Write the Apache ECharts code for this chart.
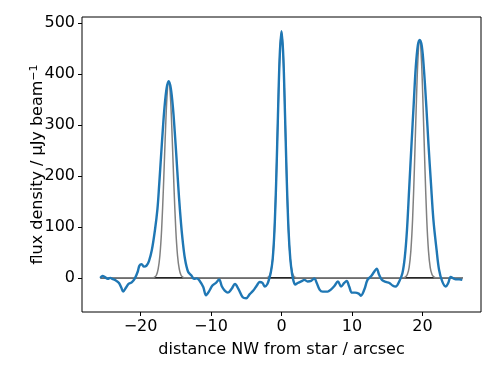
<!DOCTYPE html>
<html>
<head>
<meta charset="utf-8">
<script src="https://cdn.jsdelivr.net/npm/echarts@6/dist/echarts.min.js"></script>
<style>
  html, body { margin: 0; padding: 0; background: #fff; }
  #chart { width: 498px; height: 374px; }
</style>
</head>
<body>
<div id="chart"></div>
<script>
// observed profile (blue), [distance arcsec, flux uJy/beam]
const observed = [
  [-25.7, 0], [-25.4, 4], [-25.0, 1], [-24.65, -2], [-24.3, 0], [-24.0, -2],
  [-23.5, -5], [-23.05, -10], [-22.7, -20], [-22.45, -27], [-22.1, -20], [-21.7, -12],
  [-21.25, -9], [-20.8, -1], [-20.4, 12], [-20.15, 24], [-19.85, 27], [-19.5, 22],
  [-19.15, 24], [-18.8, 33], [-18.4, 54], [-17.95, 94], [-17.6, 135], [-17.35, 183],
  [-17.1, 236], [-16.85, 288], [-16.6, 334], [-16.3, 372], [-16.0, 386], [-15.7, 372],
  [-15.4, 334], [-15.15, 288], [-14.9, 236], [-14.65, 181], [-14.4, 132], [-14.1, 84],
  [-13.7, 38], [-13.25, 12], [-12.8, 5], [-12.4, -2], [-12.0, -1], [-11.6, -6],
  [-11.1, -18], [-10.7, -34], [-10.3, -27], [-9.8, -15], [-9.3, -10], [-8.85, -3],
  [-8.45, -17], [-8.05, -25], [-7.6, -29], [-7.1, -22], [-6.6, -12], [-6.1, -22],
  [-5.5, -38], [-5.0, -40], [-4.5, -32], [-4.0, -25], [-3.5, -15], [-3.1, -8],
  [-2.7, -10], [-2.35, -17], [-2.0, -12], [-1.75, -2], [-1.5, 12], [-1.25, 37],
  [-1.0, 93], [-0.75, 191], [-0.5, 320], [-0.25, 436], [0, 484], [0.25, 436],
  [0.5, 320], [0.75, 191], [1.0, 93], [1.25, 37], [1.5, 8], [1.7, -6],
  [1.95, -13], [2.3, -10], [2.8, -7], [3.25, -4], [3.7, -7], [4.2, -6],
  [4.65, -1], [5.0, -10], [5.4, -23], [5.85, -27], [6.55, -27], [7.0, -23],
  [7.5, -16], [8.0, -7], [8.45, -17], [8.9, -10], [9.25, -6], [9.6, -17],
  [10.0, -29], [10.45, -29], [10.95, -31], [11.25, -35], [11.75, -23], [12.2, -4],
  [12.7, 3], [13.15, 12], [13.5, 18], [13.85, 6], [14.25, -4], [14.8, -8],
  [15.3, -10], [15.75, -15], [16.2, -17], [16.7, -7], [17.15, 9], [17.5, 42],
  [17.8, 94], [18.1, 172], [18.45, 264], [18.75, 340], [19.05, 414], [19.35, 457],
  [19.6, 467], [19.9, 455], [20.2, 410], [20.55, 335], [20.85, 262], [21.2, 186],
  [21.55, 114], [22.0, 55], [22.35, 16], [22.8, -7], [23.3, -17], [23.65, -10],
  [24.0, 2], [24.4, -1], [24.7, -3], [25.2, -3], [25.65, -4]
];

// model (grey)
const model = [
  [-25.7, 0], [-18.25, 0], [-18.0, 1.5], [-17.75, 5], [-17.5, 17], [-17.25, 44],
  [-17.0, 96], [-16.75, 177], [-16.5, 273], [-16.25, 354], [-16.0, 386], [-15.75, 354],
  [-15.5, 273], [-15.25, 177], [-15.0, 96], [-14.75, 44], [-14.5, 17], [-14.25, 5],
  [-14.0, 1.5], [-13.75, 0],
  [-2.25, 0], [-2.0, 0.6], [-1.75, 3], [-1.5, 12], [-1.25, 37], [-1.0, 93],
  [-0.75, 191], [-0.5, 320], [-0.25, 436], [0, 484], [0.25, 436], [0.5, 320],
  [0.75, 191], [1.0, 93], [1.25, 37], [1.5, 12], [1.75, 3], [2.0, 0.6], [2.25, 0],
  [17.35, 0], [17.6, 2], [17.85, 6.5], [18.1, 20], [18.35, 53], [18.6, 116],
  [18.85, 214], [19.1, 330], [19.35, 428], [19.6, 467], [19.85, 428], [20.1, 330],
  [20.35, 214], [20.6, 116], [20.85, 53], [21.1, 20], [21.35, 6.5], [21.6, 2],
  [21.85, 0], [25.7, 0]
];

const zeroLine = [[-25.7, 0], [25.7, 0]];

const xTicks = [-20, -10, 0, 10, 20];
const yTicks = [0, 100, 200, 300, 400, 500];

const font = 'DejaVu Sans';
const minus = v => (v < 0 ? '\u2212' + Math.abs(v) : String(v));

const chart = echarts.init(document.getElementById('chart'));
chart.setOption({
  animation: false,
  grid: {
    left: 82, right: 17, top: 17, bottom: 62,
    show: true, borderColor: '#000', borderWidth: 1, backgroundColor: 'transparent'
  },
  xAxis: {
    type: 'value',
    min: -28.3, max: 28.3,
    name: 'distance NW from star / arcsec',
    nameLocation: 'middle',
    nameGap: 30,
    nameMoveOverlap: false,
    nameTextStyle: { fontFamily: font, fontSize: 16, color: '#000' },
    axisLine: { show: false, onZero: false },
    splitLine: { show: false },
    axisTick: { show: true, length: 4, customValues: xTicks, lineStyle: { color: '#000', width: 1 } },
    axisLabel: {
      customValues: xTicks, formatter: minus, margin: 7,
      fontFamily: font, fontSize: 16, color: '#000'
    }
  },
  yAxis: {
    type: 'value',
    min: -67, max: 512,
    name: 'flux density / \u03bcJy beam{sup|\u22121}',
    nameLocation: 'middle',
    nameRotate: 90,
    nameGap: 35,
    nameMoveOverlap: false,
    nameTextStyle: {
      fontFamily: font, fontSize: 16, color: '#000',
      rich: { sup: { fontFamily: font, fontSize: 11, color: '#000', verticalAlign: 'top', padding: [0, 0, 7, 0] } }
    },
    axisLine: { show: false, onZero: false },
    splitLine: { show: false },
    axisTick: { show: true, length: 4, customValues: yTicks, lineStyle: { color: '#000', width: 1 } },
    axisLabel: {
      customValues: yTicks, formatter: minus, margin: 7,
      fontFamily: font, fontSize: 16, color: '#000'
    }
  },
  series: [
    {
      type: 'line', data: zeroLine, symbol: 'none', silent: true,
      lineStyle: { color: '#262626', width: 1.8 }
    },
    {
      type: 'line', data: model, symbol: 'none', smooth: 0.3, silent: true,
      lineStyle: { color: '#808080', width: 1.5 }
    },
    {
      type: 'line', data: observed, symbol: 'none', smooth: 0.35, silent: true,
      lineStyle: { color: '#1f77b4', width: 2.4 }
    }
  ]
});
</script>
</body>
</html>
